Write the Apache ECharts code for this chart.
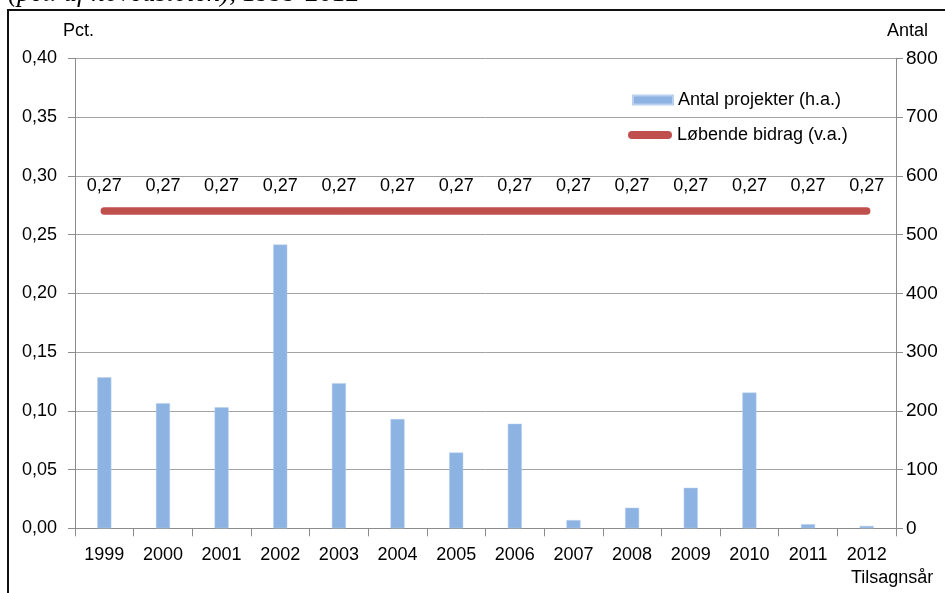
<!DOCTYPE html>
<html>
<head>
<meta charset="utf-8">
<script src="https://cdn.jsdelivr.net/npm/echarts@6/dist/echarts.min.js"></script>
<style>
html,body{margin:0;padding:0;background:#fff;}
#chart{width:945px;height:593px;}
</style>
</head>
<body>
<div id="chart"></div>
<script>
var years = ['1999','2000','2001','2002','2003','2004','2005','2006','2007','2008','2009','2010','2011','2012'];
var antalProjekter = [257, 213, 206, 483, 247, 186, 129, 178, 14, 35, 69, 231, 7, 4];
var loebendeBidrag = [0.27, 0.27, 0.27, 0.27, 0.27, 0.27, 0.27, 0.27, 0.27, 0.27, 0.27, 0.27, 0.27, 0.27];
var titleText = '(pct. af hovedstolen), 1999-2012';
var leftAxisName = 'Pct.';
var rightAxisName = 'Antal';
var xAxisName = 'Tilsagnsår';
var barName = 'Antal projekter (h.a.)';
var lineName = 'Løbende bidrag (v.a.)';

var FONT = '"Liberation Sans", Arial, sans-serif';
var chart = echarts.init(document.getElementById('chart'), null, {renderer: 'canvas'});

function comma2(v) { return v.toFixed(2).replace('.', ','); }

chart.setOption({
  animation: false,
  backgroundColor: '#ffffff',
  textStyle: {fontFamily: FONT},
  grid: {left: 75, right: 49, top: 58.3, bottom: 64.7, containLabel: false},
  legend: [
    {
      data: [{name: barName, icon: 'rect'}],
      left: 632, top: 91, padding: 0,
      itemWidth: 40, itemHeight: 9, itemGap: 5,
      textStyle: {fontFamily: FONT, fontSize: 18, color: '#000'},
      selectedMode: false
    },
    {
      data: [{name: lineName, icon: 'path://M4,0 L40,0 A4,4 0 0 1 40,8 L4,8 A4,4 0 0 1 4,0 Z'}],
      left: 628, top: 126, padding: 0,
      itemWidth: 44, itemHeight: 8, itemGap: 5,
      textStyle: {fontFamily: FONT, fontSize: 18, color: '#000'},
      selectedMode: false
    }
  ],
  xAxis: {
    type: 'category',
    data: years,
    boundaryGap: true,
    axisLine: {show: true, lineStyle: {color: '#8c8c8c', width: 1}},
    axisTick: {show: true, length: 8, lineStyle: {color: '#8c8c8c'}},
    axisLabel: {interval: 0, margin: 18, fontFamily: FONT, fontSize: 18, color: '#000'},
    splitLine: {show: false}
  },
  yAxis: [
    {
      type: 'value',
      min: 0, max: 0.4, interval: 0.05,
      position: 'left',
      axisLine: {show: true, lineStyle: {color: '#8c8c8c', width: 1}},
      axisTick: {show: true, length: 7, lineStyle: {color: '#8c8c8c'}},
      axisLabel: {margin: 18, fontFamily: FONT, fontSize: 18, color: '#000', formatter: function(v){ return comma2(v); }},
      splitLine: {show: true, lineStyle: {color: '#a3a3a3', width: 1}}
    },
    {
      type: 'value',
      min: 0, max: 800, interval: 100,
      position: 'right',
      axisLine: {show: true, lineStyle: {color: '#8c8c8c', width: 1}},
      axisTick: {show: true, length: 7, lineStyle: {color: '#8c8c8c'}},
      axisLabel: {margin: 10, fontFamily: FONT, fontSize: 19, color: '#000'},
      splitLine: {show: false}
    }
  ],
  series: [
    {
      name: barName,
      type: 'bar',
      yAxisIndex: 1,
      data: antalProjekter,
      barWidth: '24%',
      itemStyle: {color: '#8db3e2', borderColor: '#b9d0ee', borderWidth: 0.5},
      z: 2
    },
    {
      name: lineName,
      type: 'line',
      yAxisIndex: 0,
      data: loebendeBidrag,
      symbol: 'circle',
      symbolSize: 2,
      showSymbol: true,
      itemStyle: {color: '#c0504d'},
      lineStyle: {color: '#c0504d', width: 7.5, cap: 'round'},
      label: {
        show: true, position: 'top', distance: 15,
        fontFamily: FONT, fontSize: 18, color: '#000',
        formatter: function(p){ return comma2(p.value); }
      },
      z: 3
    }
  ],
  graphic: [
    {type: 'text', left: 8, top: -20, style: {text: titleText, font: 'italic 27px "Liberation Serif", "Times New Roman", serif', fill: '#000'}},
    {type: 'polyline', shape: {points: [[8, 600], [8, 10], [950, 10]]}, style: {stroke: '#111', lineWidth: 2, fill: null}},
    {type: 'text', x: 63, y: 31, style: {text: leftAxisName, font: '18px ' + FONT, fill: '#000', verticalAlign: 'middle', align: 'left'}},
    {type: 'text', x: 887, y: 31, style: {text: rightAxisName, font: '18px ' + FONT, fill: '#000', verticalAlign: 'middle', align: 'left'}},
    {type: 'text', x: 851, y: 578, style: {text: xAxisName, font: '18px ' + FONT, fill: '#000', verticalAlign: 'middle', align: 'left'}}
  ]
});
</script>
</body>
</html>
